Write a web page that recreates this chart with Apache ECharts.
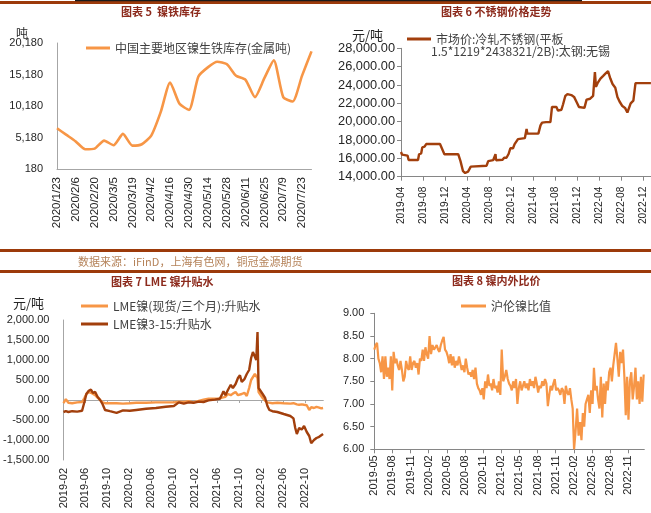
<!DOCTYPE html>
<html><head><meta charset="utf-8">
<script src="https://cdn.jsdelivr.net/npm/echarts@6/dist/echarts.min.js"></script>
<style>html,body{margin:0;padding:0;background:#fff}#c{width:651px;height:513px}</style>
</head><body><div id="c"></div>
<script>
// ---------- Panel 1: 镍铁库存 ----------
const invDates = ['2020/1/23','2020/1/30','2020/2/6','2020/2/13','2020/2/20','2020/2/27','2020/3/5','2020/3/12','2020/3/19','2020/3/26','2020/4/2','2020/4/9','2020/4/16','2020/4/23','2020/4/30','2020/5/7','2020/5/14','2020/5/21','2020/5/28','2020/6/4','2020/6/11','2020/6/18','2020/6/25','2020/7/2','2020/7/9','2020/7/16','2020/7/23','2020/7/30'];
const invValues = [6650,5590,4530,3310,3420,4690,3950,5750,3890,4110,5480,9200,13920,10520,9570,14870,16310,17210,16840,14980,14340,11590,14600,17420,11590,10900,15000,18850];
const invName = '中国主要地区镍生铁库存(金属吨)';

// ---------- Panel 2: 不锈钢价格 ----------
const ssDates = ['2019-04-01','2019-04-07','2019-04-16','2019-05-07','2019-05-13','2019-07-04','2019-07-10','2019-07-22','2019-07-28','2019-08-10','2019-08-19','2019-11-04','2019-11-28','2020-02-13','2020-02-25','2020-03-10','2020-03-22','2020-04-07','2020-04-22','2020-05-01','2020-07-19','2020-07-28','2020-08-25','2020-09-07','2020-09-10','2020-10-16','2020-10-25','2020-11-07','2020-11-13','2020-11-19','2020-11-28','2020-12-13','2020-12-22','2021-01-01','2021-01-10','2021-02-16','2021-02-25','2021-03-01','2021-05-01','2021-05-13','2021-05-22','2021-06-01','2021-06-13','2021-07-07','2021-07-16','2021-08-10','2021-08-19','2021-09-07','2021-09-16','2021-09-28','2021-10-10','2021-11-01','2021-11-16','2021-12-01','2021-12-13','2022-01-13','2022-01-25','2022-02-13','2022-02-28','2022-03-07','2022-03-10','2022-03-16','2022-03-25','2022-04-10','2022-04-25','2022-05-10','2022-05-22','2022-06-04','2022-06-16','2022-07-01','2022-07-13','2022-07-25','2022-08-10','2022-08-25','2022-09-07','2022-09-16','2022-09-25','2022-10-10','2022-10-22','2023-01-16'];
const ssValues = [16700,16400,16300,16300,15820,15820,16450,16550,17200,17270,17560,17560,16450,16450,15700,14600,14400,14550,15100,15200,15200,15700,15800,16450,15800,15850,16070,16070,15900,16500,17100,17100,17550,17600,18100,18200,19200,18700,18700,19600,19900,19750,19950,19950,21600,21600,21200,21300,21900,22800,23000,22900,22700,22100,21600,21500,22400,22500,22800,22800,25400,23800,24200,24700,25000,25300,25500,24700,24100,23700,22700,22200,21700,21500,21000,21000,22000,22300,24200,24200];
const ssName = '市场价:冷轧不锈钢(平板';
const ssName2 = '1.5*1219*2438321/2B):太钢:无锡';

// ---------- Panel 3: LME 镍升贴水 ----------
const lmeDates = ['2019-02-01','2019-02-13','2019-02-26','2019-03-19','2019-04-16','2019-05-13','2019-05-26','2019-06-06','2019-06-19','2019-07-01','2019-07-12','2019-07-25','2019-08-07','2019-08-22','2019-09-04','2019-09-18','2019-10-15','2019-11-21','2019-12-27','2020-02-03','2020-03-09','2020-05-02','2020-06-26','2020-08-20','2020-10-04','2020-11-01','2020-11-28','2020-12-25','2021-01-22','2021-02-19','2021-03-16','2021-04-13','2021-05-18','2021-06-15','2021-06-28','2021-07-05','2021-07-16','2021-07-30','2021-08-15','2021-08-27','2021-09-11','2021-09-24','2021-10-05','2021-10-15','2021-10-30','2021-11-12','2021-11-25','2021-12-06','2021-12-16','2021-12-27','2022-01-04','2022-01-11','2022-01-17','2022-01-26','2022-02-08','2022-02-21','2022-03-05','2022-03-16','2022-04-02','2022-04-29','2022-06-04','2022-07-10','2022-07-28','2022-08-07','2022-08-16','2022-08-29','2022-09-12','2022-09-25','2022-10-10','2022-10-24','2022-11-04','2022-11-19','2022-12-03','2022-12-18','2022-12-30','2023-01-09'];
const lmeSpot3m = [-80,20,-70,-80,-60,-50,50,150,200,180,200,120,60,0,-60,-80,-80,-80,-90,-80,-70,-70,-60,-60,-60,-40,-50,-30,-60,-20,10,30,30,40,60,40,80,150,120,160,200,120,160,150,180,100,300,500,450,650,700,550,200,150,50,-20,-60,-80,-80,-70,-80,-90,-80,-120,-110,-120,-110,-120,-130,-250,-180,-200,-170,-190,-210,-200];
const lme315 = [-300,-280,-300,-280,-290,-270,-50,150,230,260,180,200,80,0,-100,-250,-280,-320,-260,-270,-250,-220,-200,-170,-150,-60,-90,-60,-70,-40,-50,-10,10,30,150,220,120,250,380,300,400,550,620,450,520,650,750,1050,1200,1150,1000,1700,300,350,150,50,-150,-250,-280,-300,-350,-400,-460,-700,-850,-700,-740,-650,-800,-900,-1080,-1000,-950,-920,-880,-850];
const lmeName1 = 'LME镍(现货/三个月):升贴水';
const lmeName2 = 'LME镍3-15:升贴水';

// ---------- Panel 4: 沪伦镍比值 (weekly from 2019-05-01) ----------
const ratioStart = '2019-05-01';
const ratioStepDays = 7;
const ratioValues = [
8.20,8.30,8.35,8.00,7.90,7.70,8.05,7.55,8.05,7.60,
7.80,7.55,8.05,7.30,8.15,7.90,8.00,7.85,7.75,7.95,
7.75,7.50,7.60,7.95,7.80,7.75,8.05,7.75,7.90,7.95,
7.80,7.90,7.65,8.00,7.95,8.20,7.95,8.25,8.10,8.00,
8.50,8.10,8.30,8.20,8.25,8.30,8.20,8.15,8.30,8.40,
8.48,8.20,8.15,8.05,7.90,8.10,7.85,8.05,7.80,7.95,
7.85,8.05,7.90,7.75,7.85,7.70,8.00,7.80,7.65,7.70,
7.60,7.75,7.55,7.80,7.45,7.35,7.30,7.20,7.35,7.10,
7.50,7.35,7.65,7.40,7.45,7.30,7.55,7.35,7.40,7.25,
7.50,7.20,8.20,7.50,7.60,7.75,7.55,7.45,7.40,7.30,
7.50,7.35,7.55,7.00,7.35,7.50,7.30,7.40,7.50,7.35,
7.45,7.30,7.55,7.40,7.50,7.35,7.60,7.45,7.25,7.40,
7.35,7.50,7.40,7.55,7.45,6.95,7.20,7.40,7.30,7.45,
7.55,7.30,7.35,7.30,7.20,7.35,7.30,7.00,7.40,7.25,
7.20,7.35,7.10,6.90,6.00,6.40,6.90,6.30,6.60,6.20,
6.80,6.50,7.00,7.10,7.20,6.80,7.30,7.00,7.80,7.30,
7.40,7.10,6.90,7.60,6.70,7.45,7.00,7.50,7.30,7.70,
7.80,7.50,7.85,8.10,8.35,8.00,7.60,8.15,7.90,8.20,
7.60,6.75,7.60,6.65,7.50,7.70,7.10,7.40,7.80,7.10,
7.50,7.00,7.60,7.05,7.65];
const ratioName = '沪伦镍比值';

// ---------- helpers ----------
const ORANGE = '#F79646', BROWN = '#A23F0C', AXIS = '#A6A6A6', LBL = '#262626';
const FONT = '"Liberation Sans", Arial, "Noto Sans CJK SC", sans-serif';
const CJK = '"Noto Sans CJK SC", "Liberation Sans", sans-serif';
function monthIndex(dateStr, baseY, baseM) {
  const p = dateStr.split('-').map(Number);
  const dim = new Date(p[0], p[1], 0).getDate();
  return (p[0] - baseY) * 12 + (p[1] - baseM) + (p[2] - 1) / dim;
}
function monthLabel(baseY, baseM, v) {
  const t = baseY * 12 + (baseM - 1) + Math.round(v);
  const y = Math.floor(t / 12), m = t % 12 + 1;
  return y + '-' + (m < 10 ? '0' : '') + m;
}
function fmt(v, d) {
  const neg = v < 0; v = Math.abs(v);
  let s = v.toFixed(d); let [i, f] = s.split('.');
  i = i.replace(/\B(?=(\d{3})+(?!\d))/g, ',');
  return (neg ? '-' : '') + i + (f ? '.' + f : '');
}
function ticks(max, step) { const a = []; for (let v = 0; v <= max + 1e-9; v += step) a.push(v); return a; }
function addDays(s, n) {
  const p = s.split('-').map(Number);
  const d = new Date(Date.UTC(p[0], p[1] - 1, p[2] + n));
  return d.getUTCFullYear() + '-' + String(d.getUTCMonth() + 1).padStart(2, '0') + '-' + String(d.getUTCDate()).padStart(2, '0');
}

const ssData = ssDates.map((d, i) => [monthIndex(d, 2019, 4), ssValues[i]]);
const lmeX = lmeDates.map(d => monthIndex(d, 2019, 2));
const lmeData1 = lmeX.map((x, i) => [x, lmeSpot3m[i]]);
const lmeData2 = lmeX.map((x, i) => [x, lme315[i]]);
const ratioData = ratioValues.map((v, i) => [monthIndex(addDays(ratioStart, i * ratioStepDays), 2019, 5), v]);

const P2MAX = 45.5, P3MAX = 47.3, P4MAX = 44.65;

const chart = echarts.init(document.getElementById('c'), null, { renderer: 'canvas' });
const xLbl = (size, margin) => ({ rotate: 90, fontSize: size, color: LBL, fontFamily: FONT, margin: margin });

chart.setOption({
  animation: false,
  backgroundColor: '#fff',
  grid: [
    { left: 57, top: 43, width: 254.5, height: 126 },
    { left: 401, top: 48.3, width: 250, height: 128.4 },
    { left: 59.3, top: 320, width: 264, height: 140 },
    { left: 374.3, top: 313.3, width: 270, height: 136 }
  ],
  legend: [
    { data: [invName], left: 81, top: 37, icon: 'rect', itemWidth: 24, itemHeight: 3,
      textStyle: { fontSize: 12, color: '#404040', fontFamily: CJK } },
    { data: [ssName], left: 402, top: 28, icon: 'rect', itemWidth: 24, itemHeight: 3,
      textStyle: { fontSize: 12, color: '#404040', fontFamily: CJK } },
    { data: [lmeName1, lmeName2], orient: 'vertical', left: 76, top: 295, itemGap: 6, icon: 'rect', itemWidth: 27, itemHeight: 3,
      textStyle: { fontSize: 12, color: '#404040', fontFamily: CJK } },
    { data: [ratioName], left: 456, top: 295, icon: 'rect', itemWidth: 25, itemHeight: 3,
      textStyle: { fontSize: 12, color: '#404040', fontFamily: CJK } }
  ],
  xAxis: [
    { gridIndex: 0, type: 'category', data: invDates, boundaryGap: false,
      axisLine: { lineStyle: { color: AXIS, width: 1 } }, axisTick: { show: false },
      axisLabel: Object.assign(xLbl(11.5, 8), { interval: 1 }), splitLine: { show: false } },
    { gridIndex: 1, type: 'value', min: 0, max: P2MAX,
      axisLine: { lineStyle: { color: '#868686' } },
      axisTick: { show: true, length: 4, lineStyle: { color: '#868686' }, customValues: ticks(P2MAX, 4) },
      axisLabel: Object.assign(xLbl(10.2, 10), { customValues: ticks(P2MAX, 4), formatter: v => monthLabel(2019, 4, v) }),
      splitLine: { show: false } },
    { gridIndex: 2, type: 'value', min: 0, max: P3MAX,
      axisLine: { show: false, onZero: false }, axisTick: { show: false },
      axisLabel: Object.assign(xLbl(11, 8), { customValues: ticks(P3MAX, 4), formatter: v => monthLabel(2019, 2, v) }),
      splitLine: { show: false } },
    { gridIndex: 2, type: 'value', min: 0, max: P3MAX, position: 'bottom',
      axisLine: { show: true, onZero: true, lineStyle: { color: AXIS } },
      axisTick: { show: true, length: 3, lineStyle: { color: AXIS }, customValues: ticks(P3MAX, 4) },
      axisLabel: { show: false }, splitLine: { show: false } },
    { gridIndex: 3, type: 'value', min: 0, max: P4MAX,
      axisLine: { lineStyle: { color: '#868686' } },
      axisTick: { show: true, length: 4, lineStyle: { color: '#868686' }, customValues: ticks(P4MAX, 3) },
      axisLabel: Object.assign(xLbl(11, 6), { customValues: ticks(P4MAX, 3), formatter: v => monthLabel(2019, 5, v) }),
      splitLine: { show: false } }
  ],
  yAxis: [
    { gridIndex: 0, type: 'value', min: 180, max: 20180, interval: 5000,
      axisLine: { show: true, lineStyle: { color: AXIS } }, axisTick: { show: false }, splitLine: { show: false },
      axisLabel: { fontSize: 11, color: LBL, fontFamily: FONT, margin: 14, formatter: v => fmt(v, 0) } },
    { gridIndex: 1, type: 'value', min: 14000, max: 28000, interval: 2000,
      axisLine: { show: true, lineStyle: { color: '#868686' } },
      axisTick: { show: true, length: 4, lineStyle: { color: '#868686' } }, splitLine: { show: false },
      axisLabel: { fontSize: 12.8, color: LBL, fontFamily: FONT, margin: 6, formatter: v => fmt(v, 2) } },
    { gridIndex: 2, type: 'value', min: -1500, max: 2000, interval: 500,
      axisLine: { show: true, lineStyle: { color: AXIS } }, axisTick: { show: false }, splitLine: { show: false },
      axisLabel: { fontSize: 11, color: LBL, fontFamily: FONT, margin: 14, formatter: v => fmt(v, 2) } },
    { gridIndex: 3, type: 'value', min: 6, max: 9, interval: 0.5,
      axisLine: { show: true, lineStyle: { color: '#868686' } },
      axisTick: { show: true, length: 4, lineStyle: { color: '#868686' } }, splitLine: { show: false },
      axisLabel: { fontSize: 11, color: LBL, fontFamily: FONT, margin: 10, formatter: v => fmt(v, 2) } }
  ],
  series: [
    { name: invName, type: 'line', xAxisIndex: 0, yAxisIndex: 0, data: invValues, smooth: 0.2,
      showSymbol: false, symbol: 'none', color: ORANGE, lineStyle: { width: 2.6, color: ORANGE } },
    { name: ssName, type: 'line', xAxisIndex: 1, yAxisIndex: 1, data: ssData,
      showSymbol: false, symbol: 'none', color: BROWN, lineStyle: { width: 2.4, color: BROWN } },
    { name: lmeName1, type: 'line', xAxisIndex: 2, yAxisIndex: 2, data: lmeData1,
      showSymbol: false, symbol: 'none', color: ORANGE, lineStyle: { width: 2.4, color: ORANGE } },
    { name: lmeName2, type: 'line', xAxisIndex: 2, yAxisIndex: 2, data: lmeData2,
      showSymbol: false, symbol: 'none', color: BROWN, lineStyle: { width: 2.4, color: BROWN } },
    { name: ratioName, type: 'line', xAxisIndex: 4, yAxisIndex: 3, data: ratioData,
      showSymbol: false, symbol: 'none', color: ORANGE, lineStyle: { width: 2.2, color: ORANGE } }
  ],
  graphic: [
    { type: 'rect', shape: { x: 0, y: 1, width: 651, height: 3 }, style: { fill: '#9C3A0A' } },
    { type: 'rect', shape: { x: 75, y: 0, width: 507, height: 1.2 }, style: { fill: '#1a1a1a' } },
    { type: 'rect', shape: { x: 0, y: 249, width: 651, height: 3 }, style: { fill: '#9C3A0A' } },
    { type: 'rect', shape: { x: 0, y: 270, width: 651, height: 3 }, style: { fill: '#9C3A0A' } },
    { type: 'text', x: 121, y: 12, style: { text: '图表 5  镍铁库存', font: 'bold 11px ' + CJK, fill: '#8C2A1C', verticalAlign: 'middle' } },
    { type: 'text', x: 441, y: 12, style: { text: '图表 6 不锈钢价格走势', font: 'bold 11px ' + CJK, fill: '#8C2A1C', verticalAlign: 'middle' } },
    { type: 'text', x: 111, y: 282, style: { text: '图表 7 LME 镍升贴水', font: 'bold 11px ' + CJK, fill: '#8C2A1C', verticalAlign: 'middle' } },
    { type: 'text', x: 452, y: 281, style: { text: '图表 8 镍内外比价', font: 'bold 11px ' + CJK, fill: '#8C2A1C', verticalAlign: 'middle' } },
    { type: 'text', x: 78, y: 262, style: { text: '数据来源：iFinD，上海有色网，铜冠金源期货', font: '11px ' + CJK, fill: '#B5835A', verticalAlign: 'middle' } },
    { type: 'text', x: 16, y: 33, style: { text: '吨', font: '12px ' + CJK, fill: '#262626', verticalAlign: 'middle' } },
    { type: 'text', x: 352, y: 35, style: { text: '元/吨', font: '13px ' + CJK, fill: '#262626', verticalAlign: 'middle' } },
    { type: 'text', x: 13, y: 303, style: { text: '元/吨', font: '13px ' + CJK, fill: '#262626', verticalAlign: 'middle' } },
    { type: 'text', x: 431, y: 51, style: { text: ssName2, font: '12px ' + CJK, fill: '#404040', verticalAlign: 'middle' } }
  ]
});
</script></body></html>
